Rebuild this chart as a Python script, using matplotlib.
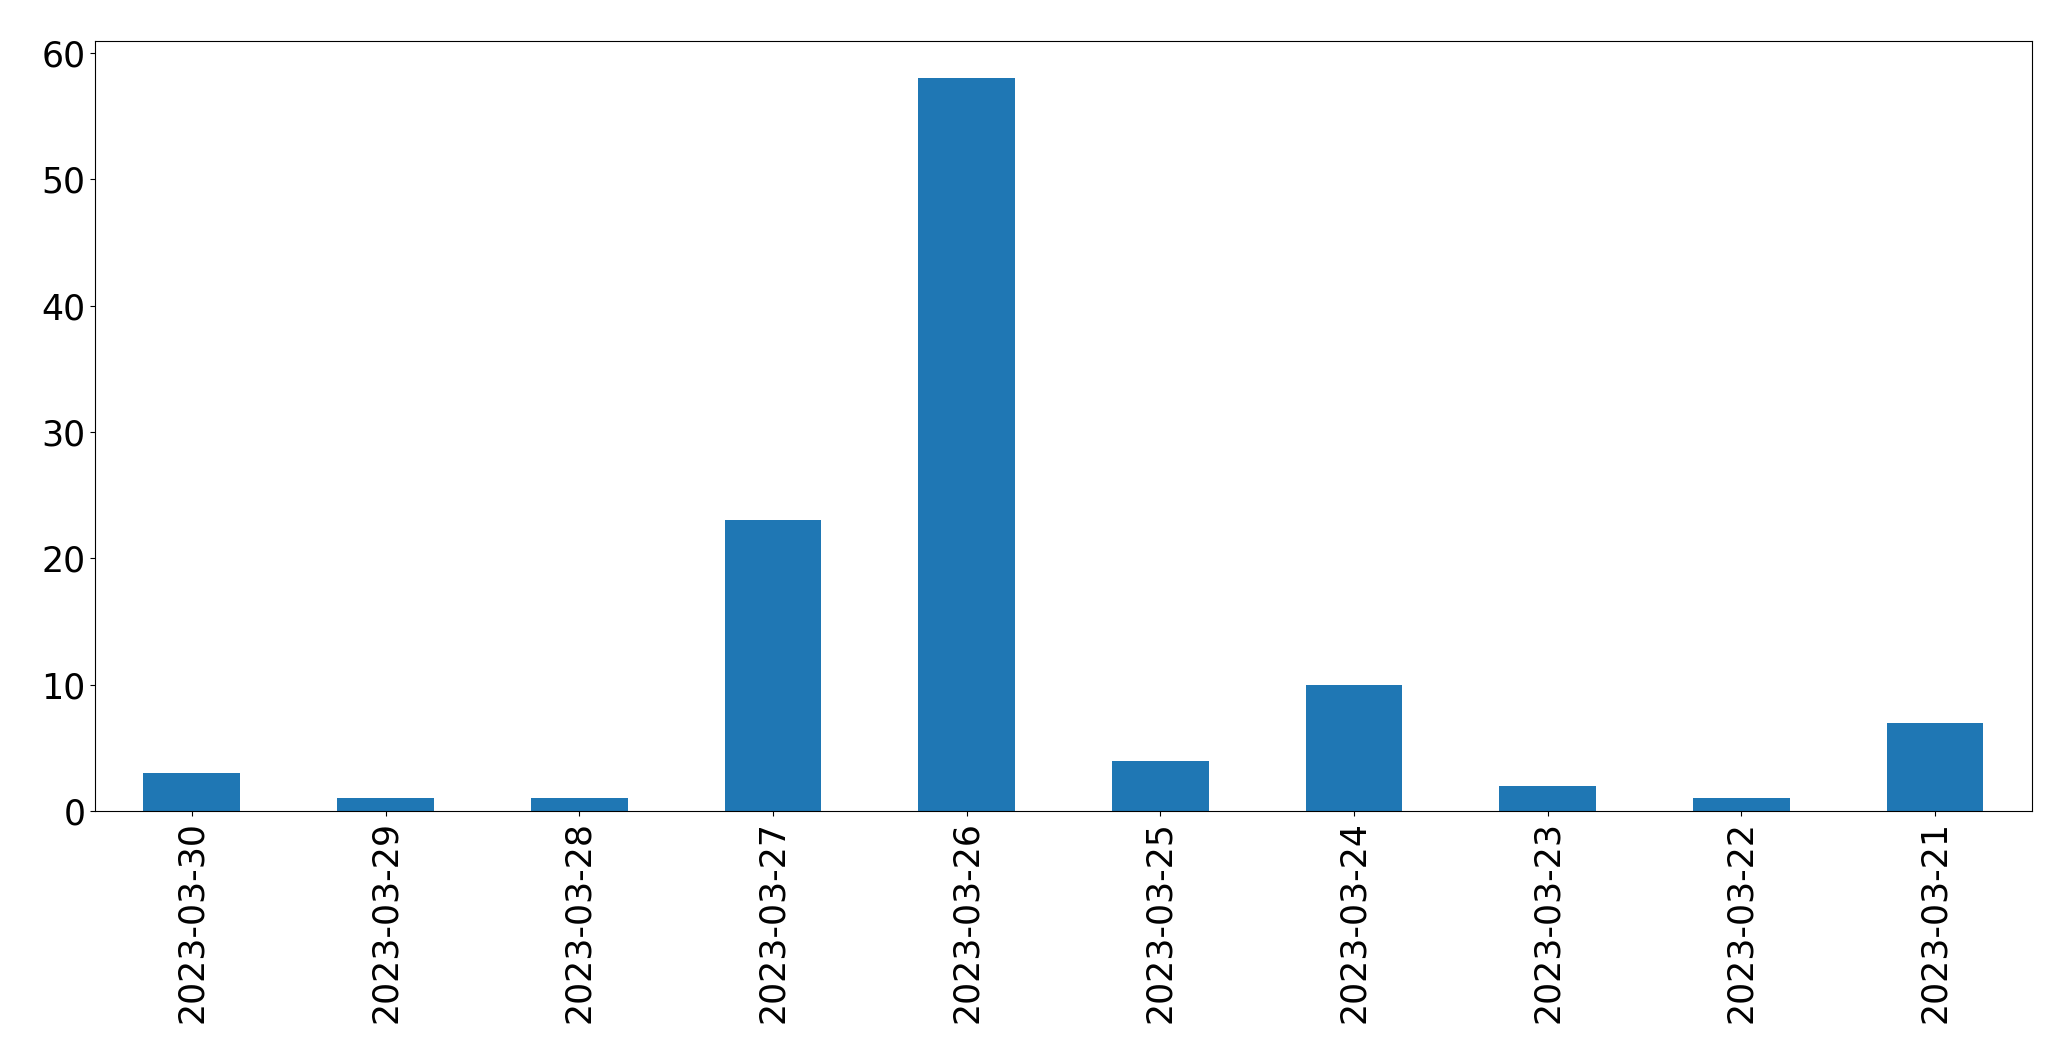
import matplotlib
matplotlib.use('Agg')
from matplotlib import pyplot as plt

dates = ['2023-03-30', '2023-03-29', '2023-03-28', '2023-03-27', '2023-03-26',
         '2023-03-25', '2023-03-24', '2023-03-23', '2023-03-22', '2023-03-21']
counts = [3, 1, 1, 23, 58, 4, 10, 2, 1, 7]

fig = plt.figure(figsize=(20.71, 10.63), dpi=100)
ax = fig.add_axes([0.0459, 0.237, 0.9352, 0.724])

x = range(len(dates))
ax.bar(x, counts, width=0.5, color='#1f77b4')
ax.set_xlim(-0.5, len(dates) - 0.5)
ax.set_xticks(list(x))
ax.set_xticklabels(dates, rotation=90)
ax.tick_params(axis='both', which='major', labelsize=25)

fig.savefig('out.png', dpi=100)
